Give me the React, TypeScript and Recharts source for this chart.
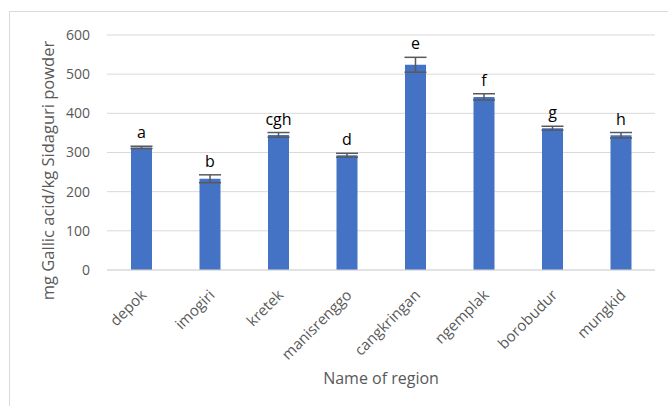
import React from "react";
import { BarChart, Bar, XAxis, YAxis, CartesianGrid, ErrorBar, LabelList } from "recharts";

const regions = ["depok", "imogiri", "kretek", "manisrenggo", "cangkringan", "ngemplak", "borobudur", "mungkid"];
const phenolic = [313, 233, 345, 293, 524, 442, 362, 344];
const stdDev = [3, 10, 6, 5, 19, 8, 5, 7];
const groups = ["a", "b", "cgh", "d", "e", "f", "g", "h"];
const yTicks = [0, 100, 200, 300, 400, 500, 600];

const data = regions.map((name, i) => ({
  name,
  value: phenolic[i],
  err: stdDev[i],
  group: groups[i],
}));

const FONT = "'Open Sans', sans-serif";

const RegionTick = (props: any) => {
  const { x, y, payload } = props;
  return (
    <g transform={`translate(${x + 6},${y + 18})`}>
      <text
        transform="rotate(-45)"
        textAnchor="end"
        fill="#595959"
        fontSize={15}
        fontFamily={FONT}
      >
        {payload.value}
      </text>
    </g>
  );
};

const GroupLabel = (props: any) => {
  const { x, y, width, height, index } = props;
  const v = phenolic[index];
  const e = stdDev[index];
  const pxPerUnit = height / v;
  const top = y - e * pxPerUnit;
  return (
    <text
      x={x + width / 2}
      y={top - 8}
      textAnchor="middle"
      fill="#000000"
      fontSize={16}
      fontFamily={FONT}
    >
      {groups[index]}
    </text>
  );
};

const YTitle = (props: any) => {
  const { viewBox } = props;
  const cx = viewBox.x + 47;
  const cy = viewBox.y + viewBox.height / 2 + 18;
  return (
    <text
      x={cx}
      y={cy}
      transform={`rotate(-90, ${cx}, ${cy})`}
      textAnchor="middle"
      dominantBaseline="central"
      fill="#595959"
      fontSize={16.5}
      fontFamily={FONT}
    >
      mg Gallic acid/kg Sidaguri powder
    </text>
  );
};

export default function App() {
  return (
    <div style={{ position: "absolute", left: 0, top: 0, width: 668, height: 406, overflow: "hidden", background: "#fff" }}>
      <div
        style={{
          position: "absolute",
          left: 9,
          top: 11,
          width: 720,
          height: 420,
          border: "1px solid #d9d9d9",
        }}
      />
      <div style={{ position: "absolute", left: 0, top: 0 }}>
        <BarChart
          width={668}
          height={406}
          data={data}
          margin={{ top: 35, right: 13, bottom: 0, left: 0 }}
        >
          <CartesianGrid vertical={false} stroke="#d9d9d9" strokeWidth={1} />
          <XAxis
            dataKey="name"
            interval={0}
            height={136}
            tickLine={false}
            axisLine={{ stroke: "#d9d9d9" }}
            tick={<RegionTick />}
            label={{
              value: "Name of region",
              position: "insideBottom",
              offset: 22,
              fill: "#595959",
              fontSize: 16,
              fontFamily: FONT,
            }}
          />
          <YAxis
            width={107}
            domain={[0, 600]}
            ticks={yTicks}
            interval={0}
            tickLine={false}
            axisLine={false}
            tickSize={0}
            tickMargin={17}
            tick={{ fill: "#595959", fontSize: 14, fontFamily: FONT }}
            label={<YTitle />}
          />
          <Bar dataKey="value" fill="#4472C4" barSize={21} isAnimationActive={false}>
            <ErrorBar dataKey="err" width={11} stroke="#595959" strokeWidth={1.5} />
            <LabelList dataKey="group" content={<GroupLabel />} />
          </Bar>
        </BarChart>
      </div>
    </div>
  );
}
